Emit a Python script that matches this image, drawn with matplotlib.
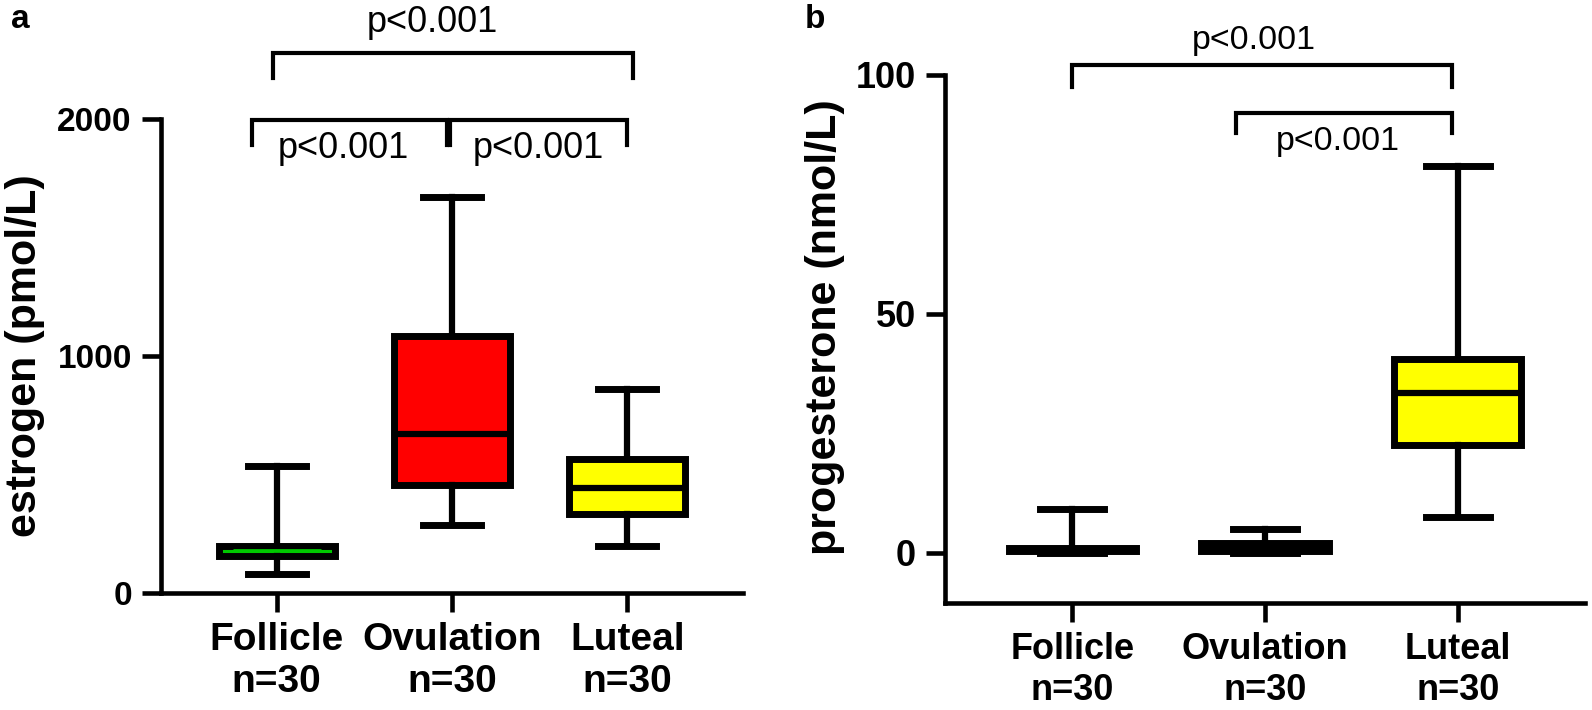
import numpy as np
import matplotlib.pyplot as plt

plt.rcParams['font.family'] = ['Liberation Sans', 'DejaVu Sans']

# groups and sample sizes
groups = ['Follicle', 'Ovulation', 'Luteal']
n_per_group = [30, 30, 30]

# estrogen (pmol/L) box summaries
estro_min = [80, 285, 198]
estro_q1 = [158, 455, 333]
estro_med = [181, 670, 443]
estro_q3 = [200, 1085, 565]
estro_max = [536, 1672, 861]
estro_colors = ['#00c800', '#ff0000', '#ffff00']
estro_median_colors = ['#00c800', 'black', 'black']

# progesterone (nmol/L) box summaries
prog_min = [0.0, 0.0, 7.6]
prog_q1 = [0.3, 0.4, 22.6]
prog_med = [0.6, 1.3, 33.5]
prog_q3 = [0.95, 2.0, 40.5]
prog_max = [9.2, 5.0, 81]
prog_colors = ['black', 'black', '#ffff00']
prog_median_colors = ['black', 'black', 'black']

# significance brackets: (x1, x2, y, leg, text x, text y)
sig_a = [(-0.02, 2.03, 2278, 105, 0.89, 2409),
         (-0.14, 0.97, 1996, 106, 0.38, 1877),
         (0.99, 2.0, 1996, 106, 1.49, 1877)]
sig_b = [(0.0, 1.97, 102.1, 4.6, 0.94, 107.3),
         (0.85, 1.97, 92.0, 4.1, 1.38, 86.0)]


def make_stats(lo, q1, med, q3, hi):
    return [dict(whislo=a, q1=b, med=c, q3=d, whishi=e, fliers=[])
            for a, b, c, d, e in zip(lo, q1, med, q3, hi)]


def draw_panel(ax, stats, colors, med_colors, ylim, yticks, ylabel, sigs,
               ytick_size, xtick_size, sig_size, label_pos):
    pos = np.arange(len(groups))
    res = ax.bxp(stats, positions=pos, widths=0.66, capwidths=0.33,
                 patch_artist=True, showfliers=False,
                 boxprops=dict(linewidth=5, edgecolor='black'),
                 whiskerprops=dict(linewidth=4.5, color='black'),
                 capprops=dict(linewidth=5, color='black'),
                 medianprops=dict(linewidth=4.5, color='black'))
    for box, c in zip(res['boxes'], colors):
        box.set_facecolor(c)
    for med, c in zip(res['medians'], med_colors):
        med.set_color(c)
        if c != 'black':
            # thin coloured median drawn inside the box edges
            med.set_linewidth(2)
            med.set_xdata([p * 0.88 + q * 0.12 for p, q in
                           zip(med.get_xdata(), med.get_xdata()[::-1])])
        med.set_solid_capstyle('butt')

    ax.set_xlim(-0.66, 2.66)
    ax.set_ylim(*ylim)
    ax.set_yticks(yticks)
    ax.set_yticklabels([str(t) for t in yticks], fontsize=ytick_size,
                       fontweight='bold')
    ax.set_xticks(pos)
    ax.set_xticklabels([f'{g}\nn={n}' for g, n in zip(groups, n_per_group)],
                       fontsize=xtick_size, fontweight='bold', linespacing=1.2)
    for s in ['top', 'right']:
        ax.spines[s].set_visible(False)
    for s in ['left', 'bottom']:
        ax.spines[s].set_linewidth(3.3)
    ax.spines['left'].set_bounds(ylim[0], yticks[-1])
    ax.tick_params(width=3.3, length=14, pad=7)
    ax.set_ylabel(ylabel, fontsize=31, fontweight='bold', va='center')
    ax.yaxis.set_label_coords(*label_pos)

    for x1, x2, y, leg, tx, ty in sigs:
        ax.plot([x1, x1, x2, x2], [y - leg, y, y, y - leg], color='black',
                lw=3, clip_on=False, solid_joinstyle='miter')
        ax.text(tx, ty, 'p<0.001', ha='center', va='center',
                fontsize=sig_size)


fig = plt.figure(figsize=(15.92, 7.1), dpi=100)
W, H = 1592, 710
ax_a = fig.add_axes([161 / W, (H - 593) / H, (743 - 161) / W, (593 - 119) / H])
ax_b = fig.add_axes([945 / W, (H - 603) / H, (1585 - 945) / W, (603 - 75) / H])

draw_panel(ax_a, make_stats(estro_min, estro_q1, estro_med, estro_q3, estro_max),
           estro_colors, estro_median_colors, (0, 2000), [0, 1000, 2000],
           'estrogen (pmol/L)', sig_a, 24, 28, 26, (-0.234, 0.5))
draw_panel(ax_b, make_stats(prog_min, prog_q1, prog_med, prog_q3, prog_max),
           prog_colors, prog_median_colors, (-10.5, 100), [0, 50, 100],
           'progesterone (nmol/L)', sig_b, 26, 26, 24.5, (-0.1875, 0.523))

fig.text(20 / W, 1 - 20 / H, 'a', fontsize=24, fontweight='bold',
         ha='center', va='center')
fig.text(815 / W, 1 - 20 / H, 'b', fontsize=24, fontweight='bold',
         ha='center', va='center')

fig.savefig('out.png', dpi=100)
